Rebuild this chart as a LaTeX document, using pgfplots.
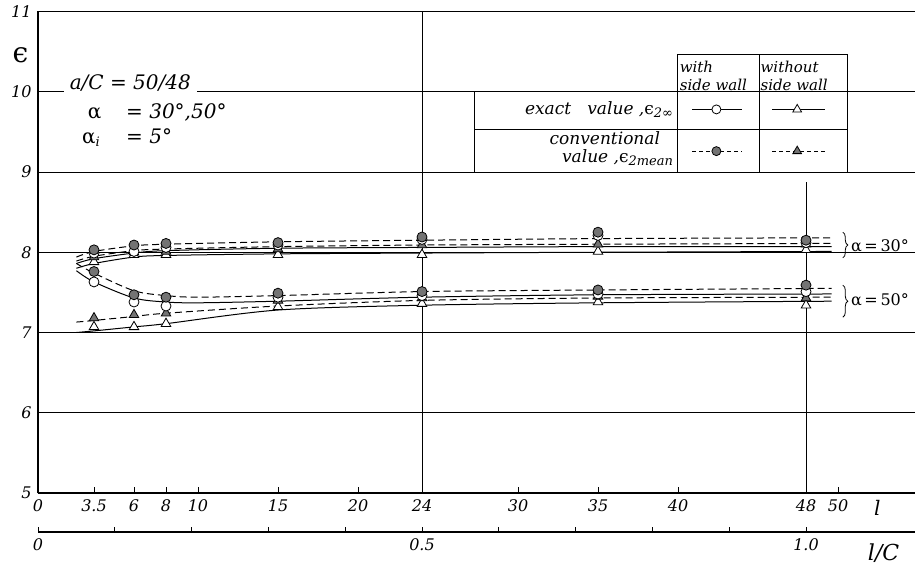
\RequirePackage{fix-cm}
\documentclass[border=0pt]{standalone}
\usepackage[no-math]{fontspec}
\setmainfont{DejaVu Serif}
\usepackage{pgfplots}
\pgfplotsset{compat=1.18}
\usetikzlibrary{decorations.pathreplacing}
\newcommand\tlf{\fontsize{16}{18}\selectfont\itshape}
\newcommand\lgf{\fontsize{17}{18}\selectfont\itshape}
\newcommand\hdf{\fontsize{15}{17.5}\selectfont\itshape}
\newcommand\anf{\fontsize{20}{22}\selectfont\itshape}
\newcommand\sub[1]{{\fontsize{13}{13}\selectfont\raisebox{-3pt}{#1}}}
\definecolor{mgray}{gray}{0.45}
\pgfplotsset{
  line/.style={black, line width=1pt},
  curve/.style={line, smooth, tension=0.5, no marks},
  dcurve/.style={curve, dash pattern=on 7pt off 4pt},
  openc/.style={only marks, mark=*, mark size=5pt, mark options={solid, fill=white, draw=black, line width=0.8pt}},
  grayc/.style={only marks, mark=*, mark size=5pt, mark options={solid, fill=mgray, draw=black, line width=0.8pt}},
  opent/.style={only marks, mark=triangle*, mark size=5.5pt, mark options={solid, fill=white, draw=black, line width=0.8pt}},
  grayt/.style={only marks, mark=triangle*, mark size=5.5pt, mark options={solid, fill=mgray, draw=black, line width=0.8pt}},
}
\begin{document}
\begin{tikzpicture}
\begin{axis}[
  at={(0pt,0pt)}, anchor=south west,
  x=16pt, y=80.25pt,
  xmin=0, xmax=54.8125, ymin=5, ymax=11,
  axis x line*=bottom, axis y line*=left,
  axis line style={line width=1.1pt, -},
  clip=false,
  xtick={0,3.5,6,8,10,15,20,30,35,40,50},
  xticklabels={0,3.5,6,8,10,15,20,30,35,40,50},
  extra x ticks={24,48},
  extra x tick labels={24,48},
  extra x tick style={major tick length=0pt},
  tick align=inside,
  major tick length=6pt,
  tick style={line width=0.8pt, black},
  xticklabel style={font=\tlf, yshift=-3pt},
  ytick={5,6,7,8,9,10,11},
  yticklabels={5,6,7,8,9,10,11},
  yticklabel style={font=\tlf, xshift=-3pt},
  ymajorgrids,
  major grid style={line width=0.8pt, black},
]
% vertical grid lines
\draw[line width=0.8pt] (axis cs:24,5) -- (axis cs:24,11);
\draw[line width=0.8pt] (axis cs:48,5) -- (axis cs:48,8.88);

% alpha = 30 deg curves
\addplot[dcurve] coordinates {(2.4,7.94)(3.5,8.01)(6,8.08)(8,8.10)(15,8.13)(24,8.15)(35,8.17)(49.6,8.18)};
\addplot[dcurve] coordinates {(2.4,7.89)(3.5,7.95)(6,8.02)(8,8.04)(15,8.07)(24,8.09)(35,8.10)(49.6,8.11)};
\addplot[curve] coordinates {(2.4,7.86)(3.5,7.92)(6,7.99)(8,8.02)(15,8.05)(24,8.06)(35,8.07)(49.6,8.07)};
\addplot[curve] coordinates {(2.4,7.80)(3.5,7.86)(6,7.94)(8,7.96)(15,7.98)(24,7.99)(35,8.00)(49.6,8.01)};
% alpha = 50 deg curves
\addplot[dcurve] coordinates {(2.4,7.86)(3.5,7.74)(6,7.52)(8,7.46)(10,7.44)(15,7.46)(24,7.51)(35,7.53)(49.6,7.55)};
\addplot[curve] coordinates {(2.4,7.77)(3.5,7.63)(6,7.43)(8,7.38)(10,7.37)(15,7.39)(24,7.44)(35,7.47)(49.6,7.48)};
\addplot[dcurve] coordinates {(2.4,7.13)(3.5,7.15)(6,7.20)(8,7.24)(15,7.33)(24,7.40)(35,7.43)(49.6,7.44)};
\addplot[curve] coordinates {(2.4,7.00)(3.5,7.02)(6,7.07)(8,7.11)(15,7.28)(24,7.34)(35,7.37)(49.6,7.39)};

% measured points, alpha = 30
\addplot[opent] coordinates {(3.5,7.88)(6,7.97)(8,7.97)(15,7.97)(24,7.97)(35,8.01)(48,8.03)};
\addplot[grayt] coordinates {(3.5,7.94)(6,8.00)(8,8.01)(15,8.04)(24,8.09)(35,8.10)(48,8.10)};
\addplot[openc] coordinates {(3.5,7.99)(6,8.01)(8,8.06)(15,8.09)(24,8.16)(35,8.21)(48,8.12)};
\addplot[grayc] coordinates {(3.5,8.03)(6,8.09)(8,8.11)(15,8.12)(24,8.19)(35,8.25)(48,8.15)};
% measured points, alpha = 50
\addplot[opent] coordinates {(3.5,7.07)(6,7.07)(8,7.11)(15,7.32)(24,7.36)(35,7.38)(48,7.34)};
\addplot[grayt] coordinates {(3.5,7.18)(6,7.22)(8,7.24)(15,7.40)(24,7.43)(35,7.45)(48,7.43)};
\addplot[openc] coordinates {(3.5,7.63)(6,7.38)(8,7.33)(15,7.44)(24,7.46)(35,7.48)(48,7.51)};
\addplot[grayc] coordinates {(3.5,7.76)(6,7.47)(8,7.44)(15,7.49)(24,7.51)(35,7.53)(48,7.59)};

% axis label epsilon
\node at (axis cs:-1.1,10.46) {\fontsize{28}{30}\selectfont ϵ};
% annotation
\node[anchor=base west, fill=white, inner xsep=6pt, inner ysep=3pt] at (axis cs:1.6,10.03) {\anf a/C = 50/48};
\node[anchor=base west, inner sep=0pt] at (axis cs:3.1,9.67) {\anf\upshape α};
\node[anchor=base west, inner sep=0pt] at (axis cs:5.5,9.67) {\anf= 30°,50°};
\node[anchor=base west, inner sep=0pt] at (axis cs:2.75,9.36) {\anf{\upshape α}\sub{i}};
\node[anchor=base west, inner sep=0pt] at (axis cs:5.5,9.36) {\anf= 5°};

% legend table
\fill[white] (axis cs:27.25,9) rectangle (axis cs:50.56,10);
\fill[white] (axis cs:39.94,10) rectangle (axis cs:50.56,10.46);
\draw[line width=0.9pt] (axis cs:27.25,9) rectangle (axis cs:50.56,10);
\draw[line width=0.9pt] (axis cs:39.94,9) -- (axis cs:39.94,10.46) -- (axis cs:50.56,10.46) -- (axis cs:50.56,10);
\draw[line width=0.9pt] (axis cs:45.06,9) -- (axis cs:45.06,10.46);
\draw[line width=0.9pt] (axis cs:27.25,9.53) -- (axis cs:50.56,9.53);
\node[anchor=south west, inner xsep=0pt, inner ysep=1pt, align=left, font=\hdf] at (axis cs:40.1,10.0) {with\\side wall};
\node[anchor=south west, inner xsep=0pt, inner ysep=1pt, align=left, font=\hdf] at (axis cs:45.15,10.0) {without\\side wall};
\node[anchor=east, inner sep=0pt] at (axis cs:39.7,9.78) {\lgf exact\ \ \ value ,{\upshape ϵ}\sub{2\upshape ∞}};
\node[anchor=east, inner sep=0pt, align=right, font=\fontsize{17}{17.5}\selectfont\itshape] at (axis cs:39.7,9.29) {conventional\hspace*{13pt}\\value ,{\upshape ϵ}\sub{2mean}};
\addplot[line, mark=*, mark indices={2}, mark size=4.5pt, mark options={solid, fill=white, draw=black, line width=0.8pt}, forget plot] coordinates {(40.9,9.78)(42.4,9.78)(44.0,9.78)};
\addplot[line, mark=triangle*, mark indices={2}, mark size=5pt, mark options={solid, fill=white, draw=black, line width=0.8pt}, forget plot] coordinates {(45.9,9.78)(47.45,9.78)(49.2,9.78)};
\addplot[line, dash pattern=on 4pt off 3pt, mark=*, mark indices={2}, mark size=4.5pt, mark options={solid, fill=mgray, draw=black, line width=0.8pt}, forget plot] coordinates {(40.9,9.26)(42.4,9.26)(44.0,9.26)};
\addplot[line, dash pattern=on 4pt off 3pt, mark=triangle*, mark indices={2}, mark size=5pt, mark options={solid, fill=mgray, draw=black, line width=0.8pt}, forget plot] coordinates {(45.9,9.26)(47.45,9.26)(49.2,9.26)};

% braces and alpha labels
\draw[line width=0.8pt, decorate, decoration={brace, amplitude=5pt}] (axis cs:50.3,8.25) -- (axis cs:50.3,7.93);
\node[anchor=west, inner sep=0pt] at (axis cs:50.8,8.08) {\fontsize{16}{18}\selectfont α\,=\,30°};
\draw[line width=0.8pt, decorate, decoration={brace, amplitude=5pt}] (axis cs:50.3,7.59) -- (axis cs:50.3,7.19);
\node[anchor=west, inner sep=0pt] at (axis cs:50.8,7.41) {\fontsize{16}{18}\selectfont α\,=\,50°};

% axis names
\node at (axis cs:52.45,4.82) {\fontsize{20}{22}\selectfont\itshape l};
\node at (axis cs:52.85,4.25) {\fontsize{22}{24}\selectfont\itshape l/C};
\end{axis}

% second scale l/C
\begin{axis}[
  at={(0pt,-39pt)}, anchor=south west,
  x=768pt, y=1pt,
  xmin=0, xmax=1.141927, ymin=0, ymax=1,
  axis x line*=bottom, axis y line=none,
  axis line style={line width=1.1pt, -},
  tick align=inside, major tick length=5pt,
  tick style={line width=0.8pt, black},
  xtick={0,0.1,0.2,0.3,0.4,0.5,0.6,0.7,0.8,0.9,1.0},
  xticklabels={0,,,,,0.5,,,,,1.0},
  xticklabel style={font=\tlf, yshift=-3pt},
  ytick=\empty,
]
\end{axis}
\pgfresetboundingbox
\path (-38pt,-78pt) rectangle (877pt,493pt);
\end{tikzpicture}
\end{document}
